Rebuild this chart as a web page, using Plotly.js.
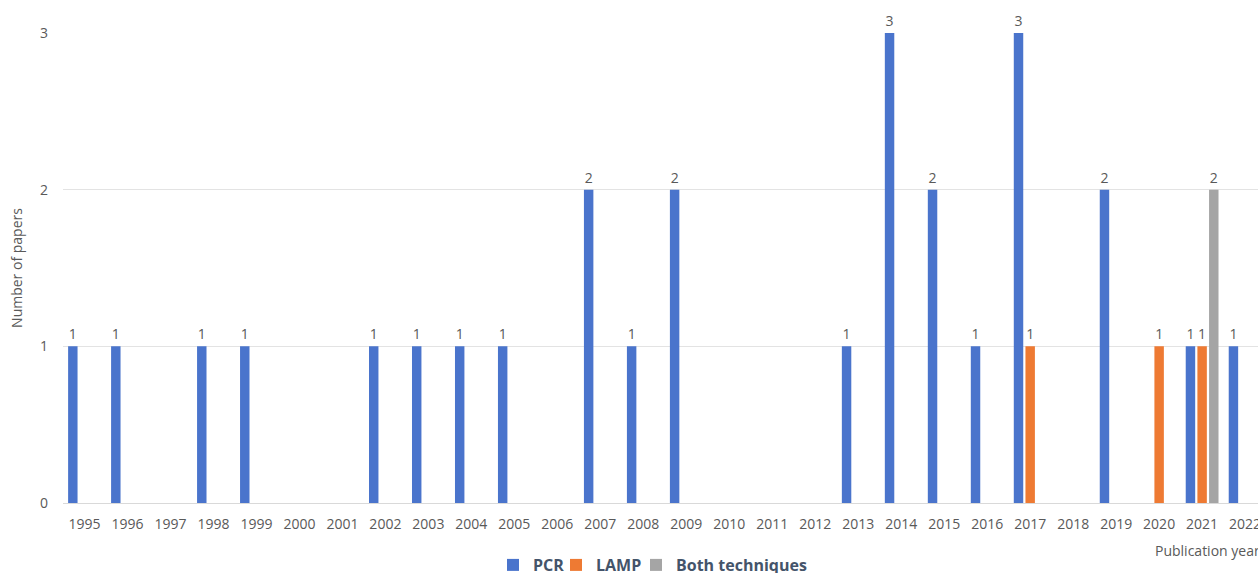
<!DOCTYPE html>
<html>
<head>
<meta charset="utf-8">
<script src="https://cdn.plot.ly/plotly-3.0.1.min.js"></script>
<style>
  html, body { margin: 0; padding: 0; background: #fff; overflow: hidden; }
  #chart { width: 1258px; height: 573px; }
</style>
</head>
<body>
<div id="chart"></div>
<script>
// Publication years and number of papers per detection technique
const years = ['1995','1996','1997','1998','1999','2000','2001','2002','2003','2004','2005','2006','2007','2008',
               '2009','2010','2011','2012','2013','2014','2015','2016','2017','2018','2019','2020','2021','2022'];
const pcr   = [1,1,0,1,1,0,0,1,1,1,1,0,2,1,2,0,0,0,1,3,2,1,3,0,2,0,1,1];
const lamp  = [0,0,0,0,0,0,0,0,0,0,0,0,0,0,0,0,0,0,0,0,0,0,1,0,0,1,1,0];
const both  = [0,0,0,0,0,0,0,0,0,0,0,0,0,0,0,0,0,0,0,0,0,0,0,0,0,0,2,0];

const yTicks = [0, 1, 2, 3];

const textColor = '#595959';
const fontFamily = 'Open Sans, Lato, sans-serif';

// value labels only on non-empty bars
const labels = arr => arr.map(v => (v > 0 ? String(v) : ''));

// each series gets its own legend box so the three entries sit close together
function series(name, values, color, legendId) {
  return {
    type: 'bar',
    name: name,
    x: years,
    y: values,
    text: labels(values),
    textposition: 'outside',
    textfont: { family: fontFamily, size: 14, color: textColor },
    cliponaxis: false,
    marker: { color: color },
    legend: legendId,
    hoverinfo: 'x+y+name'
  };
}

const data = [
  series('PCR', pcr, '#4A74CC', 'legend'),
  series('LAMP', lamp, '#EE7A33', 'legend2'),
  series('Both techniques', both, '#A5A5A5', 'legend3')
];

function legendBox(xPos) {
  return {
    orientation: 'h',
    xref: 'container',
    x: xPos,
    xanchor: 'left',
    yref: 'container',
    y: 8 / 573,
    yanchor: 'middle',
    bgcolor: 'rgba(0,0,0,0)',
    font: { family: fontFamily, size: 16, color: '#44546A', weight: 'bold' },
    itemwidth: 30
  };
}

const layout = {
  width: 1258,
  height: 573,
  margin: { l: 63, r: 0, t: 33, b: 70 },
  paper_bgcolor: '#ffffff',
  plot_bgcolor: '#ffffff',
  barmode: 'group',
  bargap: 0.186,
  bargroupgap: 0.19,
  font: { family: fontFamily, color: textColor, size: 14 },
  xaxis: {
    type: 'category',
    range: [-0.5, 27.3],
    showgrid: false,
    showline: true,
    linecolor: '#D9D9D9',
    linewidth: 1,
    ticks: '',
    ticklabelstandoff: 8,
    tickfont: { family: fontFamily, size: 14, color: textColor },
    fixedrange: true
  },
  yaxis: {
    range: [0, 3],
    tickvals: yTicks,
    ticktext: yTicks.map(String),
    showgrid: true,
    gridcolor: '#E3E3E3',
    gridwidth: 1,
    zeroline: false,
    showline: false,
    ticks: '',
    ticklabelstandoff: 14,
    tickfont: { family: fontFamily, size: 14, color: textColor },
    title: { text: 'Number of papers', font: { family: fontFamily, size: 14, color: textColor }, standoff: 14 },
    fixedrange: true
  },
  showlegend: true,
  legend: legendBox(493 / 1258),
  legend2: legendBox(556 / 1258),
  legend3: legendBox(636 / 1258),
  annotations: [{
    text: 'Publication year',
    xref: 'paper',
    yref: 'paper',
    x: 1,
    xanchor: 'right',
    xshift: 4,
    y: 0,
    yshift: -47,
    yanchor: 'middle',
    showarrow: false,
    font: { family: fontFamily, size: 14, color: textColor }
  }]
};

Plotly.newPlot('chart', data, layout, { displayModeBar: false, staticPlot: true });
</script>
</body>
</html>
